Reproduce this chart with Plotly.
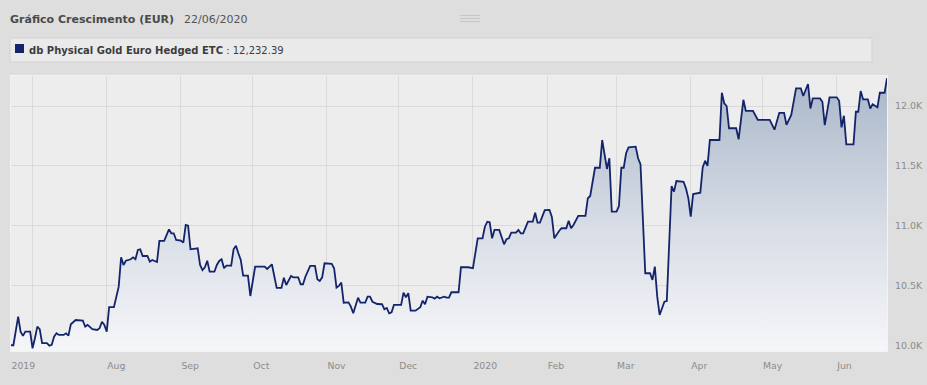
import plotly.graph_objects as go

# ---------------- data ----------------
dates = [
    "2019-06-22", "2019-06-23", "2019-06-25", "2019-06-26", "2019-06-27", "2019-06-28", "2019-06-30",
    "2019-07-01", "2019-07-02", "2019-07-03", "2019-07-04", "2019-07-05", "2019-07-07", "2019-07-08",
    "2019-07-09", "2019-07-10", "2019-07-11", "2019-07-12", "2019-07-14", "2019-07-15", "2019-07-16",
    "2019-07-17", "2019-07-19", "2019-07-22", "2019-07-23", "2019-07-24", "2019-07-26", "2019-07-28",
    "2019-07-29", "2019-07-30", "2019-07-31",
    "2019-08-01", "2019-08-02", "2019-08-04", "2019-08-06", "2019-08-07", "2019-08-08", "2019-08-09",
    "2019-08-11", "2019-08-12", "2019-08-13", "2019-08-14", "2019-08-15", "2019-08-16", "2019-08-18",
    "2019-08-19", "2019-08-20", "2019-08-22", "2019-08-23", "2019-08-25", "2019-08-27", "2019-08-28",
    "2019-08-29", "2019-08-30",
    "2019-09-01", "2019-09-02", "2019-09-03", "2019-09-04", "2019-09-05", "2019-09-08", "2019-09-09",
    "2019-09-10", "2019-09-11", "2019-09-12", "2019-09-13", "2019-09-15", "2019-09-16", "2019-09-17",
    "2019-09-18", "2019-09-19", "2019-09-20", "2019-09-22", "2019-09-23", "2019-09-24", "2019-09-25",
    "2019-09-26", "2019-09-27", "2019-09-29", "2019-09-30",
    "2019-10-01", "2019-10-02", "2019-10-06", "2019-10-07", "2019-10-09", "2019-10-11", "2019-10-13",
    "2019-10-14", "2019-10-15", "2019-10-17", "2019-10-18", "2019-10-20", "2019-10-21", "2019-10-22",
    "2019-10-23", "2019-10-25", "2019-10-27", "2019-10-28", "2019-10-29", "2019-10-30", "2019-10-31",
    "2019-11-03", "2019-11-04", "2019-11-05", "2019-11-06", "2019-11-07", "2019-11-08", "2019-11-10",
    "2019-11-11", "2019-11-12", "2019-11-14", "2019-11-15", "2019-11-17", "2019-11-18", "2019-11-19",
    "2019-11-20", "2019-11-22", "2019-11-24", "2019-11-25", "2019-11-26", "2019-11-27", "2019-11-28",
    "2019-11-29",
    "2019-12-02", "2019-12-03", "2019-12-04", "2019-12-05", "2019-12-06", "2019-12-08", "2019-12-10",
    "2019-12-11", "2019-12-12", "2019-12-13", "2019-12-15", "2019-12-16", "2019-12-17", "2019-12-18",
    "2019-12-20", "2019-12-21", "2019-12-22", "2019-12-23", "2019-12-26", "2019-12-27", "2019-12-30",
    "2020-01-01", "2020-01-02", "2020-01-03", "2020-01-05", "2020-01-06", "2020-01-07", "2020-01-08",
    "2020-01-09", "2020-01-10", "2020-01-12", "2020-01-13", "2020-01-14", "2020-01-15", "2020-01-16",
    "2020-01-17", "2020-01-19", "2020-01-20", "2020-01-21", "2020-01-22", "2020-01-24", "2020-01-26",
    "2020-01-27", "2020-01-28", "2020-01-29", "2020-01-31",
    "2020-02-02", "2020-02-03", "2020-02-04", "2020-02-06", "2020-02-07", "2020-02-09", "2020-02-10",
    "2020-02-11", "2020-02-12", "2020-02-14", "2020-02-17", "2020-02-18", "2020-02-19", "2020-02-21",
    "2020-02-23", "2020-02-24", "2020-02-25", "2020-02-26", "2020-02-27", "2020-02-28",
    "2020-03-01", "2020-03-02", "2020-03-03", "2020-03-04", "2020-03-05", "2020-03-06", "2020-03-09",
    "2020-03-10", "2020-03-11", "2020-03-13", "2020-03-15", "2020-03-16", "2020-03-17", "2020-03-18",
    "2020-03-19", "2020-03-21", "2020-03-22", "2020-03-24", "2020-03-25", "2020-03-26", "2020-03-29",
    "2020-03-30", "2020-03-31",
    "2020-04-01", "2020-04-02", "2020-04-03", "2020-04-05", "2020-04-06", "2020-04-07", "2020-04-08",
    "2020-04-09", "2020-04-13", "2020-04-14", "2020-04-15", "2020-04-16", "2020-04-17", "2020-04-20",
    "2020-04-21", "2020-04-23", "2020-04-24", "2020-04-27", "2020-04-29",
    "2020-05-04", "2020-05-06", "2020-05-08", "2020-05-10", "2020-05-11", "2020-05-13", "2020-05-15",
    "2020-05-17", "2020-05-18", "2020-05-20", "2020-05-21", "2020-05-22", "2020-05-25", "2020-05-26",
    "2020-05-27", "2020-05-29",
    "2020-06-01", "2020-06-02", "2020-06-03", "2020-06-04", "2020-06-05", "2020-06-08", "2020-06-09",
    "2020-06-10", "2020-06-11", "2020-06-12", "2020-06-14", "2020-06-15", "2020-06-16", "2020-06-18",
    "2020-06-19", "2020-06-21", "2020-06-22",
]

values = [
    10000, 10000, 10239, 10114, 10078, 10114, 10114,
    9975, 10059, 10156, 10134, 10017, 10017, 9997,
    10003, 10072, 10100, 10086, 10086, 10100, 10080,
    10176, 10211, 10206, 10156, 10170, 10134, 10128,
    10142, 10197, 10170,
    10114, 10318, 10318, 10490, 10735, 10671, 10707,
    10719, 10735, 10719, 10797, 10802, 10746, 10746,
    10699, 10713, 10696, 10872, 10872, 10969, 10936,
    10936, 10880,
    10874, 10858, 11005, 10999, 10802, 10811, 10671,
    10629, 10652, 10707, 10615, 10615, 10671, 10705,
    10719, 10644, 10665, 10665, 10802, 10832, 10769,
    10713, 10582, 10582, 10412,
    10546, 10657, 10657, 10638, 10677, 10479, 10479,
    10565, 10504, 10579, 10568, 10568, 10510, 10510,
    10573, 10663, 10663, 10552, 10537, 10568, 10685,
    10680, 10644, 10482, 10496, 10524, 10356, 10359,
    10323, 10267, 10398, 10356, 10356, 10406, 10406,
    10364, 10345, 10343, 10301, 10312, 10267, 10276,
    10337,
    10337, 10440, 10401, 10435, 10289, 10289, 10318,
    10373, 10343, 10406, 10401, 10390, 10406, 10393,
    10406, 10398, 10398, 10443, 10443, 10652, 10652,
    10644, 10755, 10894, 10894, 10991, 11033, 11028,
    10894, 10964, 10964, 10908, 10844, 10886, 10894,
    10941, 10941, 10964, 10936, 10936, 11033, 11033,
    11108, 11025, 11025, 11130,
    11132, 11070, 10894, 10955, 10978, 10978, 11041,
    10978, 11005, 11081, 11081, 11229, 11248, 11484,
    11484, 11716, 11591, 11474, 11563, 11117,
    11117, 11164, 11484, 11484, 11605, 11655, 11660,
    11563, 11513, 10602, 10602, 10546, 10657, 10406,
    10253, 10364, 10370, 11331, 11284, 11373, 11367,
    11312, 11229,
    11075, 11264, 11270, 11276, 11486, 11543, 11499,
    11716, 11716, 12111, 12023, 12000, 11814, 11814,
    11722, 12052, 11960, 11960, 11885,
    11885, 11802, 11943, 11943, 11843, 11925, 12148,
    12148, 12084, 12184, 11980, 12064, 12064, 12036,
    11841, 12073,
    12073, 12044, 11822, 11919, 11680, 11680, 11952,
    11952, 12125, 12056, 12056, 11980, 12014, 11989,
    12111, 12111, 12232.39,
]

series_name = "db Physical Gold Euro Hedged ETC"
chart_title = "Gráfico Crescimento (EUR)"
chart_date = "22/06/2020"

x_tick_vals = ["2019-06-22", "2019-07-01", "2019-08-01", "2019-09-01", "2019-10-01", "2019-11-01",
               "2019-12-01", "2020-01-01", "2020-02-01", "2020-03-01", "2020-04-01", "2020-05-01",
               "2020-06-01"]
x_tick_text = ["2019", "", "Aug", "Sep", "Oct", "Nov", "Dec", "2020", "Feb", "Mar", "Apr", "May", "Jun"]
y_tick_vals = [10000, 10500, 11000, 11500, 12000]
y_tick_text = ["10.0K", "10.5K", "11.0K", "11.5K", "12.0K"]
x_range = ["2019-06-22", "2020-06-22"]
y_range = [9952, 12251]

# ---------------- layout geometry ----------------
W, H = 927, 385
ML, MR, MT, MB = 11, 40, 76, 34
PW, PH = W - ML - MR, H - MT - MB


def px(x):
    return (x - ML) / PW


def py(y):
    return (H - MB - y) / PH


FONT = "DejaVu Sans, Verdana, sans-serif"
LINE_COLOR = "#14246a"

fig = go.Figure()
fig.add_trace(go.Scatter(
    x=dates, y=values, mode="lines",
    line=dict(color=LINE_COLOR, width=1.8),
    fill="tozeroy",
    fillgradient=dict(type="vertical",
                      colorscale=[[0, "#f5f6f8"], [0.45, "#d8dde6"], [1, "#a9b7c9"]],
                      start=y_range[0], stop=y_range[1]),
    hoverinfo="skip", showlegend=False,
))

shapes = []
# legend box
shapes.append(dict(type="rect", xref="paper", yref="paper",
                   x0=px(10), x1=px(872), y0=py(62), y1=py(38),
                   fillcolor="#eaeaea", line=dict(color="#d3d3d3", width=1), layer="below"))
# legend swatch
shapes.append(dict(type="rect", xref="paper", yref="paper",
                   x0=px(15), x1=px(24), y0=py(53), y1=py(44),
                   fillcolor=LINE_COLOR, line=dict(width=0)))
# drag handle
for yy in (15.5, 18.5, 21.5):
    shapes.append(dict(type="line", xref="paper", yref="paper",
                       x0=px(460), x1=px(480), y0=py(yy), y1=py(yy),
                       line=dict(color="#c6c6c6", width=1)))

annotations = [
    dict(text="<b>" + chart_title + "</b>", x=px(8), y=py(19), xref="paper", yref="paper",
         xanchor="left", yanchor="middle", showarrow=False,
         font=dict(family=FONT, size=11, color="#4a4a4a")),
    dict(text=chart_date, x=px(182), y=py(19), xref="paper", yref="paper",
         xanchor="left", yanchor="middle", showarrow=False,
         font=dict(family=FONT, size=11, color="#555555")),
    dict(text="<b>" + series_name + "</b> : " + f"{values[-1]:,.2f}", x=px(27), y=py(50.5),
         xref="paper", yref="paper", xanchor="left", yanchor="middle", showarrow=False,
         font=dict(family=FONT, size=10, color="#3c3c3c")),
]

fig.update_layout(
    width=W, height=H,
    margin=dict(l=ML, r=MR, t=MT, b=MB, pad=0, autoexpand=False),
    paper_bgcolor="#dedede",
    plot_bgcolor="#ededed",
    shapes=shapes,
    annotations=annotations,
    showlegend=False,
    xaxis=dict(
        type="date", range=x_range, tickmode="array", tickvals=x_tick_vals, ticktext=x_tick_text,
        showgrid=True, gridcolor="#dadada", gridwidth=1, zeroline=False,
        showline=True, mirror=True, linecolor="#f3f3f3", linewidth=1,
        ticks="", ticklabelposition="outside right", ticklabelstandoff=6,
        tickfont=dict(family=FONT, size=9.3, color="#8c8c8c"),
        fixedrange=True, automargin=False,
    ),
    yaxis=dict(
        side="right", range=y_range, tickmode="array", tickvals=y_tick_vals, ticktext=y_tick_text,
        showgrid=True, gridcolor="#dadada", gridwidth=1, zeroline=False,
        showline=True, mirror=True, linecolor="#f3f3f3", linewidth=1,
        ticks="", ticklabelstandoff=5,
        tickfont=dict(family=FONT, size=9.5, color="#8c8c8c"),
        fixedrange=True, automargin=False,
    ),
)

fig.write_html("out.html", config={"displayModeBar": False},
               post_script="document.body.style.margin='0';document.body.style.background='#dedede';")
